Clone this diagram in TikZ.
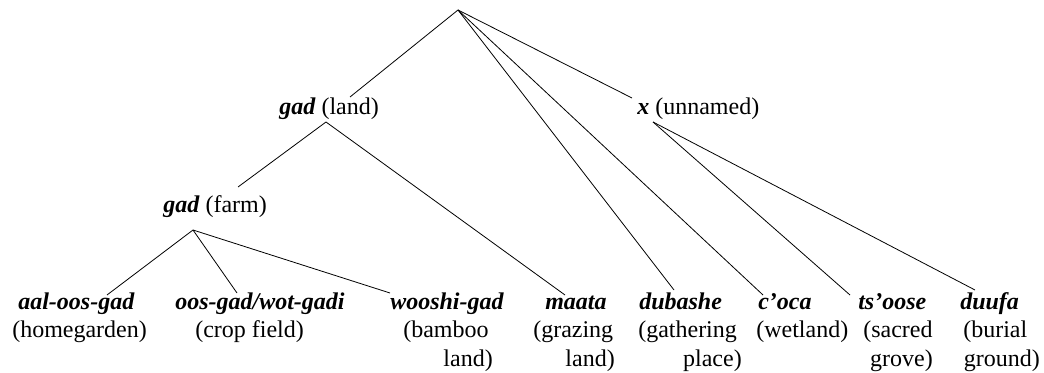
\documentclass[tikz,border=0pt]{standalone}
\usepackage{fontspec}
\setmainfont{Liberation Serif}
\begin{document}
\begin{tikzpicture}[x=0.75pt,y=-0.75pt,
  txt/.style={inner sep=0pt, anchor=base west, font=\fontsize{18}{21}\selectfont},
  txtr/.style={txt, anchor=base east},
  term/.style={txt, font=\fontsize{18}{21}\selectfont\bfseries\itshape},
  edge/.style={line width=0.6pt, black}]
\useasboundingbox (0,0) rectangle (1044,373);

% inner nodes
\node[txt] (land) at (279,115) {\textbf{\textit{gad}} (land)};
\node[txt] (unnamed) at (637,115) {\textbf{\textit{x}} (unnamed)};
\node[txt] (farm) at (163,213) {\textbf{\textit{gad}} (farm)};

% leaves
\node[term] (aal) at (18,310) {aal-oos-gad};
\node[txt] (aal1) at (12,338) {(homegarden)};

\node[term] (oos) at (175,310) {oos-gad/wot-gadi};
\node[txt] (oos1) at (195,338) {(crop field)};

\node[term] (woo) at (390,310) {wooshi-gad};
\node[txt] (woo1) at (403,338) {(bamboo};
\node[txtr] (woo2) at (493,366) {land)};

\node[term] (maa) at (545,310) {maata};
\node[txt] (maa1) at (533,338) {(grazing};
\node[txtr] (maa2) at (615,366) {land)};

\node[term] (dub) at (639,310) {dubashe};
\node[txt] (dub1) at (638,338) {(gathering};
\node[txtr] (dub2) at (742,366) {place)};

\node[term] (coc) at (758,310) {c’oca};
\node[txt] (coc1) at (756,338) {(wetland)};

\node[term] (tso) at (858,310) {ts’oose};
\node[txt] (tso1) at (863,338) {(sacred};
\node[txtr] (tso2) at (933,366) {grove)};

\node[term] (duu) at (960,310) {duufa};
\node[txt] (duu1) at (963,338) {(burial};
\node[txtr] (duu2) at (1040,366) {ground)};

% attachment points
\coordinate (R) at (458,10);
\coordinate (landT) at (350,97);
\coordinate (landB) at (326,122);
\coordinate (unT) at (632,98);
\coordinate (unB) at (653,122);
\coordinate (farmT) at (238,187);
\coordinate (farmB) at (193,230);
\coordinate (aalT) at (107,295);
\coordinate (oosT) at (237,293);
\coordinate (wooT) at (390,293);
\coordinate (maaT) at (565,295);
\coordinate (dubT) at (674,290);
\coordinate (cocT) at (763,295);
\coordinate (tsoT) at (850,295);
\coordinate (duuT) at (975,290);

% connectors
\draw[edge] (R) -- (landT);
\draw[edge] (R) -- (dubT);
\draw[edge] (R) -- (cocT);
\draw[edge] (R) -- (unT);
\draw[edge] (landB) -- (farmT);
\draw[edge] (landB) -- (maaT);
\draw[edge] (farmB) -- (aalT);
\draw[edge] (farmB) -- (oosT);
\draw[edge] (farmB) -- (wooT);
\draw[edge] (unB) -- (tsoT);
\draw[edge] (unB) -- (duuT);
\end{tikzpicture}
\end{document}
